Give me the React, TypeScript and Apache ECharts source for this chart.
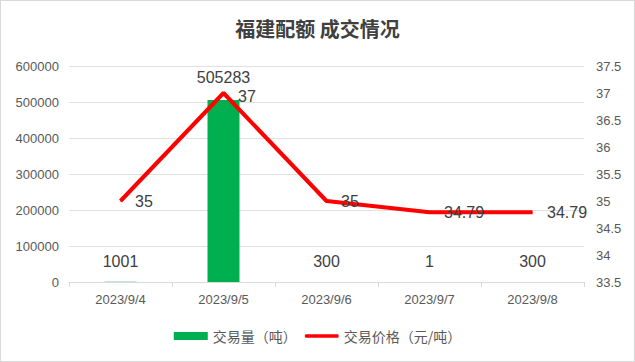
import React, { useEffect, useRef } from "react";
import * as echarts from "echarts";

const categories = ["2023/9/4", "2023/9/5", "2023/9/6", "2023/9/7", "2023/9/8"];
const volumeValues = [1001, 505283, 300, 1, 300];
const priceValues = [35, 37, 35, 34.79, 34.79];
const volumeName = "交易量（吨）";
const priceName = "交易价格（元/吨）";
const titleText = "福建配额 成交情况";

export default function App() {
  const ref = useRef<HTMLDivElement>(null);
  useEffect(() => {
    document.body.style.margin = "0";
    const chart = echarts.init(ref.current!, undefined, { renderer: "svg" });
    const numFont = "'Liberation Sans', 'Noto Sans CJK SC', sans-serif";
    const maxVol = Math.max(...volumeValues);
    const maxPrice = Math.max(...priceValues);
    chart.setOption({
      animation: false,
      backgroundColor: "#ffffff",
      title: {
        text: titleText,
        left: "center",
        top: 12,
        textStyle: {
          fontFamily: "'Noto Sans CJK SC', sans-serif",
          fontSize: 20,
          fontWeight: "bold",
          color: "#404040",
        },
      },
      legend: {
        bottom: 13,
        left: "center",
        itemWidth: 34,
        itemHeight: 8,
        itemGap: 8,
        textStyle: { fontFamily: "'Noto Sans CJK SC', sans-serif", fontSize: 14, color: "#595959" },
        data: [
          { name: volumeName, icon: "rect" },
          {
            name: priceName,
            icon: "path://M0,0L0.01,0ZM0,8L0.01,8ZM1,2.2L33,2.2Q34,2.2 34,4Q34,5.8 33,5.8L1,5.8Q0,5.8 0,4Q0,2.2 1,2.2Z",
          },
        ],
      },
      grid: { left: 68, right: 50, top: 65, bottom: 79, containLabel: false },
      xAxis: {
        type: "category",
        data: categories,
        boundaryGap: true,
        axisLine: { lineStyle: { color: "#d9d9d9" } },
        axisTick: { show: true, alignWithLabel: false, length: 5, lineStyle: { color: "#d9d9d9" } },
        axisLabel: { fontFamily: numFont, fontSize: 13, color: "#595959", margin: 11 },
      },
      yAxis: [
        {
          type: "value",
          min: 0,
          max: 600000,
          interval: 100000,
          axisLine: { show: false },
          axisTick: { show: false },
          splitLine: { lineStyle: { color: "#e0e0e0" } },
          axisLabel: {
            fontFamily: numFont,
            fontSize: 13,
            color: "#595959",
            margin: 10,
            formatter: (v: number) => String(v),
          },
        },
        {
          type: "value",
          min: 33.5,
          max: 37.5,
          interval: 0.5,
          position: "right",
          axisLine: { show: false },
          axisTick: { show: false },
          splitLine: { show: false },
          axisLabel: { fontFamily: numFont, fontSize: 13, color: "#595959", margin: 12 },
        },
      ],
      series: [
        {
          name: volumeName,
          type: "bar",
          data: volumeValues.map((v) =>
            v === maxVol ? { value: v, label: { distance: 15 } } : v
          ),
          yAxisIndex: 0,
          barWidth: 32,
          itemStyle: { color: "#00B050" },
          label: {
            show: true,
            position: "top",
            distance: 12,
            fontFamily: numFont,
            fontSize: 16,
            color: "#404040",
          },
        },
        {
          name: priceName,
          type: "line",
          data: priceValues.map((v) =>
            v === maxPrice ? { value: v, label: { offset: [0, 3] } } : v
          ),
          yAxisIndex: 1,
          symbol: "circle",
          symbolSize: 1,
          showSymbol: true,
          lineStyle: { color: "#FF0000", width: 4 },
          itemStyle: { color: "#FF0000" },
          label: {
            show: true,
            position: "right",
            distance: 14,
            fontFamily: numFont,
            fontSize: 16,
            color: "#404040",
          },
        },
      ],
    });
    return () => chart.dispose();
  }, []);
  return (
    <div
      ref={ref}
      style={{
        position: "fixed",
        left: 0,
        top: 0,
        width: 635,
        height: 362,
        boxSizing: "border-box",
        border: "1px solid #d9d9d9",
      }}
    />
  );
}
